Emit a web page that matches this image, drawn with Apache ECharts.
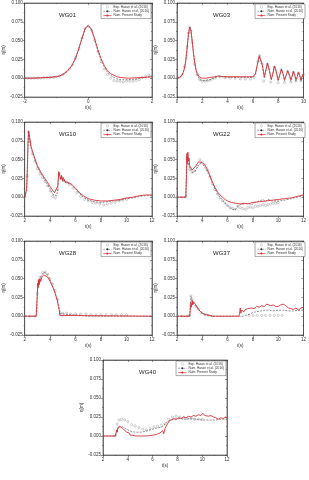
<!DOCTYPE html>
<html><head><meta charset="utf-8">
<script src="https://cdn.jsdelivr.net/npm/echarts@6/dist/echarts.min.js"></script>
<style>html,body{margin:0;padding:0;background:#fff}#c{width:309px;height:480px}</style>
</head><body><div id="c"></div>
<script>
// ---------- DATA ----------
var panelNames = ['WG01','WG03','WG10','WG22','WG28','WG37','WG40'];
var seriesNames = ['Exp. Hasan et al. (2016)','Num. Hasan et al. (2016)','Num. Present Study'];
var yTicks = [-0.025, 0.000, 0.025, 0.050, 0.075, 0.100];
var xRanges = [[-2,2],[0,10],[2,12],[2,12],[2,12],[2,12],[2,12]];

// WG01
var t01 = [-2,-1.75,-1.5,-1.25,-1,-0.9,-0.8,-0.7,-0.6,-0.5,-0.4,-0.3,-0.2,-0.1,0,0.1,0.2,0.3,0.4,0.5,0.6,0.7,0.8,0.9,1,1.25,1.5,1.75,2];
var present01 = [0,0,0.0005,0.001,0.002,0.003,0.005,0.008,0.012,0.018,0.027,0.039,0.053,0.066,0.070,0.065,0.052,0.038,0.026,0.017,0.010,0.006,0.004,0.002,0.001,0,0.0005,0.001,0.002];
var hasan01 = [0,0,0.0005,0.001,0.002,0.003,0.005,0.008,0.012,0.018,0.027,0.039,0.053,0.066,0.070,0.064,0.051,0.036,0.024,0.015,0.008,0.004,0.001,-0.001,-0.002,-0.002,-0.001,0.001,0.002];
var texp01 = [-2,-1.9,-1.8,-1.7,-1.6,-1.5,-1.4,-1.3,-1.2,-1.1,-1,-0.9,-0.8,-0.7,-0.6,-0.5,-0.4,-0.3,-0.2,-0.1,0,0.1,0.2,0.3,0.4,0.5,0.6,0.7,0.8,0.9,1,1.1,1.2,1.3,1.4,1.5,1.6,1.7,1.8,1.9,2];
var exp01 = [0,0,0,0,0,0,0.001,0.001,0.001,0.001,0.002,0.003,0.005,0.008,0.012,0.018,0.027,0.039,0.053,0.066,0.069,0.064,0.050,0.035,0.022,0.012,0.005,0.000,-0.003,-0.004,-0.004,-0.005,-0.004,-0.004,-0.004,-0.003,-0.002,0.001,0.003,0.004,0.003];

// WG03
var t03 = [0,0.2,0.4,0.5,0.6,0.7,0.8,0.9,1.0,1.1,1.2,1.3,1.4,1.5,1.6,1.8,2.0,2.3,2.6,3.0,3.3,3.6,4.0,4.5,5.0,5.5,6.0,6.2,6.35,6.5,6.6,6.75,6.9,7.0,7.15,7.25,7.45,7.55,7.7,7.8,8.0,8.1,8.25,8.35,8.5,8.6,8.75,8.85,9.0,9.1,9.2,9.3,9.4,9.5,9.6,9.7,9.8,9.9,10];
var present03 = [0,0.001,0.004,0.008,0.014,0.024,0.040,0.058,0.068,0.064,0.050,0.034,0.021,0.012,0.006,0.001,0.000,0.000,0.001,0.002,0.003,0.002,0.002,0.002,0.002,0.002,0.002,0.006,0.018,0.030,0.031,0.018,0.002,0.003,0.020,0.018,-0.001,0.004,0.016,0.012,-0.002,0.003,0.012,0.008,-0.002,0.003,0.010,0.006,-0.002,0.003,0.009,0.005,-0.002,0.002,0.008,0.004,-0.002,0.003,0.006];
var hasan03 = [0,0.001,0.004,0.008,0.014,0.024,0.040,0.058,0.068,0.063,0.049,0.033,0.019,0.010,0.004,-0.002,-0.003,-0.003,-0.002,0.001,0.002,0.002,0.001,0.001,0.001,0.001,0.001,0.005,0.017,0.029,0.030,0.016,0.000,0.002,0.019,0.016,-0.003,0.003,0.015,0.010,-0.004,0.002,0.011,0.007,-0.004,0.002,0.009,0.005,-0.004,0.002,0.008,0.004,-0.004,0.001,0.007,0.003,-0.004,0.002,0.005];
var texp03 = [0,0.2,0.4,0.6,0.8,0.9,1.0,1.1,1.2,1.4,1.6,1.8,2.0,2.2,2.4,2.6,2.8,3.0,3.4,3.8,4.2,4.6,5.0,5.4,5.8,6.1,6.4,6.55,6.7,6.85,7.15,7.4,7.7,8.0,8.25,8.5,8.75,9.0,9.2,9.4,9.6,9.8,10];
var exp03 = [0,0.001,0.004,0.015,0.042,0.060,0.068,0.062,0.048,0.019,0.005,-0.002,-0.004,-0.004,-0.003,-0.003,-0.001,0.000,0.002,0.001,0.000,0.000,-0.001,-0.001,-0.001,0.001,0.022,0.030,0.020,-0.004,0.019,-0.005,0.015,-0.006,0.011,-0.006,0.009,-0.005,0.008,-0.004,0.007,-0.004,0.005];

// WG10
var t10 = [2.0,2.1,2.15,2.2,2.25,2.3,2.35,2.4,2.5,2.6,2.75,3.0,3.25,3.5,3.75,4.0,4.2,4.35,4.5,4.6,4.68,4.75,4.82,4.9,4.97,5.05,5.15,5.3,5.5,5.7,6.0,6.3,6.6,7.0,7.5,8.0,8.5,9.0,9.5,10.0,10.5,11.0,11.5,12.0];
var present10 = [0,0.002,0.010,0.030,0.065,0.088,0.085,0.078,0.068,0.062,0.054,0.042,0.034,0.027,0.021,0.014,0.009,0.006,0.006,0.015,0.034,0.030,0.024,0.029,0.022,0.026,0.021,0.022,0.019,0.017,0.012,0.006,0.002,-0.002,-0.004,-0.005,-0.005,-0.004,-0.003,-0.001,0.000,0.002,0.003,0.003];
var hasan10 = [0,0.002,0.009,0.028,0.062,0.086,0.083,0.076,0.066,0.060,0.052,0.040,0.032,0.025,0.018,0.011,0.004,0.002,0.002,0.010,0.032,0.028,0.023,0.027,0.021,0.024,0.020,0.021,0.018,0.016,0.011,0.005,0.000,-0.004,-0.006,-0.007,-0.006,-0.005,-0.004,-0.002,-0.001,0.001,0.002,0.002];
var texp10 = [2.0,2.2,2.3,2.4,2.6,2.8,3.0,3.2,3.4,3.6,3.8,4.0,4.2,4.4,4.6,4.7,4.9,5.1,5.3,5.5,5.8,6.1,6.4,6.7,7.0,7.3,7.6,7.9,8.2,8.5,8.8,9.1,9.4,9.7,10.0];
var exp10 = [0,0.028,0.087,0.075,0.058,0.048,0.038,0.031,0.026,0.021,0.015,0.008,0.001,-0.001,0.010,0.031,0.026,0.022,0.020,0.017,0.012,0.006,0.001,-0.003,-0.005,-0.007,-0.008,-0.009,-0.010,-0.009,-0.008,-0.007,-0.005,-0.004,-0.003];

// WG22
var t22 = [2,2.7,2.75,2.78,2.82,2.86,2.9,2.95,3.0,3.1,3.2,3.35,3.5,3.7,3.85,4.0,4.2,4.4,4.6,4.8,5.0,5.2,5.4,5.6,5.8,6.0,6.3,6.6,7.0,7.3,7.6,8.0,8.5,9.0,9.5,10.0,10.5,11,11.5,12];
var present22 = [0,0,0.030,0.058,0.045,0.060,0.048,0.052,0.042,0.040,0.036,0.038,0.042,0.047,0.048,0.046,0.043,0.037,0.029,0.020,0.013,0.007,0.003,0.000,-0.003,-0.005,-0.007,-0.008,-0.009,-0.008,-0.009,-0.007,-0.006,-0.005,-0.004,-0.003,-0.002,-0.001,0.001,0.003];
var th22 = [2,2.7,2.75,2.8,2.9,3.0,3.2,3.4,3.6,3.8,4.0,4.2,4.4,4.6,4.8,5.0,5.2,5.4,5.6,5.8,6.0,6.2,6.4,6.6,6.8,7.0,7.3,7.6,7.9,8.2,8.5,8.8,9.0,9.2,9.5,10,10.5,11,11.5,12];
var hasan22 = [0,0,0.035,0.055,0.045,0.038,0.033,0.034,0.040,0.045,0.044,0.040,0.034,0.027,0.019,0.011,0.005,0.000,-0.004,-0.008,-0.011,-0.014,-0.016,-0.017,-0.012,-0.010,-0.009,-0.008,-0.010,-0.007,-0.005,-0.003,-0.006,-0.003,-0.005,-0.005,-0.004,-0.002,0.000,0.002];
var texp22 = [2.0,2.4,2.7,2.8,2.9,3.0,3.2,3.4,3.6,3.8,4.0,4.2,4.4,4.6,4.8,5.0,5.2,5.4,5.6,5.8,6.0,6.2,6.4,6.6,6.8,7.0,7.2,7.4,7.6,7.8,8.0,8.2,8.4,8.6,8.8,9.0,9.2,9.4,9.6,9.8,10.0];
var exp22 = [0,0,0,0.052,0.044,0.037,0.033,0.035,0.041,0.050,0.047,0.043,0.036,0.027,0.018,0.010,0.004,-0.001,-0.005,-0.008,-0.011,-0.014,-0.015,-0.016,-0.012,-0.014,-0.015,-0.016,-0.014,-0.013,-0.014,-0.012,-0.012,-0.011,-0.010,-0.011,-0.010,-0.009,-0.008,-0.008,-0.007];

// WG28
var t28 = [2,2.9,2.95,3.0,3.03,3.07,3.1,3.15,3.2,3.25,3.35,3.5,3.65,3.8,4.0,4.2,4.4,4.55,4.65,4.72,4.76,4.8,12];
var present28 = [0,0,0.001,0.030,0.044,0.038,0.049,0.042,0.050,0.046,0.052,0.055,0.055,0.052,0.046,0.039,0.030,0.022,0.013,0.008,0.001,0,0];
var th28 = [2,2.95,3.0,3.1,3.3,3.5,3.7,3.9,4.1,4.3,4.5,4.65,4.75,4.8,5.0,5.5,6.0,6.5,7.0,12];
var hasan28 = [0,0,0.035,0.044,0.054,0.058,0.057,0.052,0.045,0.036,0.025,0.016,0.006,0.003,0.003,0.002,0.002,0.001,0,0];
var texp28 = [2.0,2.4,2.8,3.0,3.1,3.2,3.4,3.6,3.8,4.0,4.2,4.4,4.6,4.8,5.0,5.3,5.6,6.0,6.4,6.8,7.2,7.6,8.0,8.4,8.8,9.2,9.6,10.0];
var exp28 = [0,0,0,0.030,0.046,0.052,0.058,0.059,0.056,0.050,0.043,0.034,0.022,0.004,0.004,0.004,0.003,0.003,0.003,0.003,0.002,0.002,0.002,0.002,0.002,0.002,0.002,0.002];

// WG37
var t37 = [2,3.0,3.05,3.1,3.15,3.2,3.25,3.3,3.35,3.45,3.6,3.8,4.0,4.3,4.6,4.8,6.9,6.95,7.0,7.05,7.1,7.2,7.3,7.4,7.5,7.6,7.75,7.9,8.1,8.3,8.5,8.7,8.9,9.1,9.25,9.4,9.6,9.8,10.0,10.2,10.4,10.6,10.8,11.0,11.2,11.4,11.6,11.8,12.0];
var present37 = [0,0,0.008,0.018,0.012,0.021,0.015,0.019,0.017,0.016,0.012,0.007,0.004,0.002,0.001,0,0,0.004,0.011,0.004,0.008,0.010,0.006,0.009,0.007,0.010,0.008,0.011,0.010,0.013,0.012,0.014,0.013,0.016,0.017,0.014,0.015,0.013,0.013,0.015,0.016,0.014,0.011,0.010,0.009,0.011,0.008,0.011,0.012];
var th37 = [2,3.0,3.05,3.1,3.2,3.3,3.5,3.7,3.9,4.2,4.5,4.8,7.2,7.4,7.6,7.8,8.0,8.3,8.6,9.0,9.3,9.6,10.0,10.4,10.8,11.2,11.6,12];
var hasan37 = [0,0,0.015,0.026,0.020,0.017,0.013,0.009,0.005,0.002,0.001,0,0,0.001,0.002,0.003,0.005,0.006,0.007,0.008,0.008,0.007,0.008,0.008,0.007,0.007,0.008,0.008];
var texp37 = [2.0,2.4,2.8,3.0,3.1,3.2,3.3,3.5,3.7,3.9,4.2,4.5,4.8,7.7,8.0,8.35,8.7,9.0,9.35,9.7,10.0,10.3];
var exp37 = [0,0,0,0.001,0.027,0.022,0.018,0.013,0.009,0.005,0.002,0.001,0,0.001,0.001,0.001,0.001,0.001,0.001,0.001,0.001,0.001];

// WG40
var t40 = [2,3.0,3.05,3.1,3.15,3.2,3.3,3.4,3.5,3.6,3.75,3.9,4.0,4.1,4.2,4.3,4.4,4.6,5.0,5.5,6.0,6.3,6.6,6.8,6.9,7.0,7.1,7.2,7.35,7.5,7.7,7.9,8.1,8.3,8.5,8.7,8.9,9.1,9.3,9.5,9.7,9.9,10.05,10.2,10.35,10.5,10.7,10.9,11.1,11.3,11.5,11.7,11.9,12];
var present40 = [0,0,0.002,0.008,0.005,0.011,0.010,0.012,0.011,0.010,0.008,0.005,0.003,0.004,0.001,0.003,0.001,0,0,0,0.001,0.002,0.004,0.007,0.003,0.010,0.008,0.016,0.020,0.022,0.023,0.022,0.024,0.023,0.025,0.024,0.026,0.025,0.027,0.026,0.028,0.027,0.030,0.027,0.029,0.026,0.027,0.025,0.024,0.022,0.024,0.023,0.025,0.024];
var th40 = [2,3.0,3.1,3.3,3.45,3.6,3.8,4.0,4.3,4.6,5.0,5.4,5.8,6.2,6.5,6.8,7.0,7.2,7.5,7.8,8.2,8.6,9.0,9.5,10.0,10.5,11.0,11.5,12.0];
var hasan40 = [0,0,0.006,0.013,0.014,0.012,0.010,0.008,0.006,0.005,0.005,0.006,0.008,0.010,0.011,0.012,0.016,0.019,0.021,0.022,0.023,0.022,0.023,0.022,0.021,0.021,0.021,0.022,0.022];
var texp40 = [3.0,3.15,3.3,3.5,3.75,4.0,4.3,4.6,4.9,5.2,5.5,5.8,6.1,6.4,6.7,7.0,7.3,7.6,7.9,8.2,8.5,8.8,9.1,9.4,9.7,10.0];
var exp40 = [0,0.016,0.021,0.022,0.021,0.019,0.015,0.013,0.011,0.009,0.008,0.010,0.012,0.013,0.014,0.016,0.022,0.025,0.026,0.025,0.024,0.023,0.023,0.022,0.022,0.022];

var presentT = [t01,t03,t10,t22,t28,t37,t40];
var presentV = [present01,present03,present10,present22,present28,present37,present40];
var hasanT = [t01,t03,t10,th22,th28,th37,th40];
var hasanV = [hasan01,hasan03,hasan10,hasan22,hasan28,hasan37,hasan40];
var expT = [texp01,texp03,texp10,texp22,texp28,texp37,texp40];
var expV = [exp01,exp03,exp10,exp22,exp28,exp37,exp40];

// ---------- LAYOUT ----------
var boxes = [
  {l:23,t:3,w:129,h:94},{l:177,t:3,w:129,h:94},
  {l:23,t:122,w:129,h:94},{l:177,t:122,w:129,h:94},
  {l:23,t:241,w:129,h:94},{l:177,t:241,w:129,h:94},
  {l:103,t:360,w:124,h:95}
];
function zip(a,b){return a.map(function(x,i){return [x,b[i]];});}
var FONT = 'Liberation Sans, Arial, sans-serif';
var AX = '#333';
var EXPC = '#8a8a8a', HASC = '#333333', PRESC = '#d9262e';
var option = {animation:false, backgroundColor:'#fff', textStyle:{fontFamily:FONT},
  grid:[], xAxis:[], yAxis:[], series:[], legend:[], title:[]};
boxes.forEach(function(b,i){
  option.grid.push({left:b.l, top:b.t, width:b.w, height:b.h, show:true, borderColor:AX, borderWidth:0.6, backgroundColor:'transparent'});
  var xr = xRanges[i];
  var common = {gridIndex:i, type:'value', splitLine:{show:false},
    axisLine:{show:true, onZero:false, lineStyle:{color:AX,width:0.6}},
    minorTick:{show:true, splitNumber:2, length:1, lineStyle:{color:AX,width:0.5}}};
  option.xAxis.push(Object.assign({}, common, {min:xr[0], max:xr[1], interval:2, position:'bottom',
    axisTick:{show:true, length:2, lineStyle:{color:AX,width:0.5}},
    axisLabel:{fontSize:4.5, color:AX, margin:2, fontFamily:FONT},
    name:'t(s)', nameLocation:'middle', nameGap:8, nameTextStyle:{fontSize:4.5, color:AX, fontFamily:FONT}}));
  option.xAxis.push(Object.assign({}, common, {min:xr[0], max:xr[1], interval:2, position:'top',
    axisTick:{show:true, inside:true, length:2, lineStyle:{color:AX,width:0.5}},
    minorTick:{show:true, splitNumber:2, length:1, lineStyle:{color:AX,width:0.5}},
    axisLabel:{show:false}}));
  option.yAxis.push(Object.assign({}, common, {min:yTicks[0], max:yTicks[yTicks.length-1], interval:0.025, position:'left',
    axisTick:{show:true, length:2, lineStyle:{color:AX,width:0.5}},
    axisLabel:{fontSize:4.5, color:AX, margin:2, fontFamily:FONT, formatter:function(v){return (Math.abs(v)<1e-9?0:v).toFixed(3);}},
    name:'η(m)', nameLocation:'middle', nameGap:11, nameRotate:90, nameTextStyle:{fontSize:4.5, color:AX, fontFamily:FONT}}));
  option.yAxis.push(Object.assign({}, common, {min:yTicks[0], max:yTicks[yTicks.length-1], interval:0.025, position:'right',
    axisTick:{show:true, inside:true, length:2, lineStyle:{color:AX,width:0.5}},
    axisLabel:{show:false}}));
  var xi = i*2, yi = i*2;
  option.series.push({name:seriesNames[0], type:'scatter', xAxisIndex:xi, yAxisIndex:yi,
    data:zip(expT[i],expV[i]), symbol:'circle', symbolSize:2.2,
    itemStyle:{color:'rgba(255,255,255,0)', borderColor:EXPC, borderWidth:0.5}});
  option.series.push({name:seriesNames[1], type:'line', xAxisIndex:xi, yAxisIndex:yi,
    data:zip(hasanT[i],hasanV[i]), symbol:'none',
    lineStyle:{color:HASC, width:0.55, type:[2,1.2]}, itemStyle:{color:HASC}});
  option.series.push({name:seriesNames[2], type:'line', xAxisIndex:xi, yAxisIndex:yi,
    data:zip(presentT[i],presentV[i]), symbol:'none',
    lineStyle:{color:PRESC, width:0.85}, itemStyle:{color:PRESC}});
  option.legend.push({right:309-(b.l+b.w)+1, top:b.t+1, orient:'vertical', selectedMode:false,
    data:[
      {name:seriesNames[0], icon:'circle', itemStyle:{color:'#fff', borderColor:EXPC, borderWidth:0.4}},
      {name:seriesNames[1], itemStyle:{color:HASC}, lineStyle:{color:HASC, width:0.5, type:[1.5,1]}},
      {name:seriesNames[2], itemStyle:{color:PRESC}, lineStyle:{color:PRESC, width:0.7}}
    ],
    itemWidth:8, itemHeight:2.5, itemGap:1.3, padding:[1.5,2,1.5,2],
    borderColor:'#555', borderWidth:0.5, backgroundColor:'#fff',
    textStyle:{fontSize:3.2, color:'#333', fontFamily:FONT, padding:[0,0,0,-3]}});
  option.title.push({text:panelNames[i], left:b.l+31, top:b.t+4,
    textStyle:{fontSize:6, fontWeight:'normal', color:'#222', fontFamily:FONT}});
});
var chart = echarts.init(document.getElementById('c'), null, {renderer:'canvas'});
chart.setOption(option);
</script>
</body></html>
